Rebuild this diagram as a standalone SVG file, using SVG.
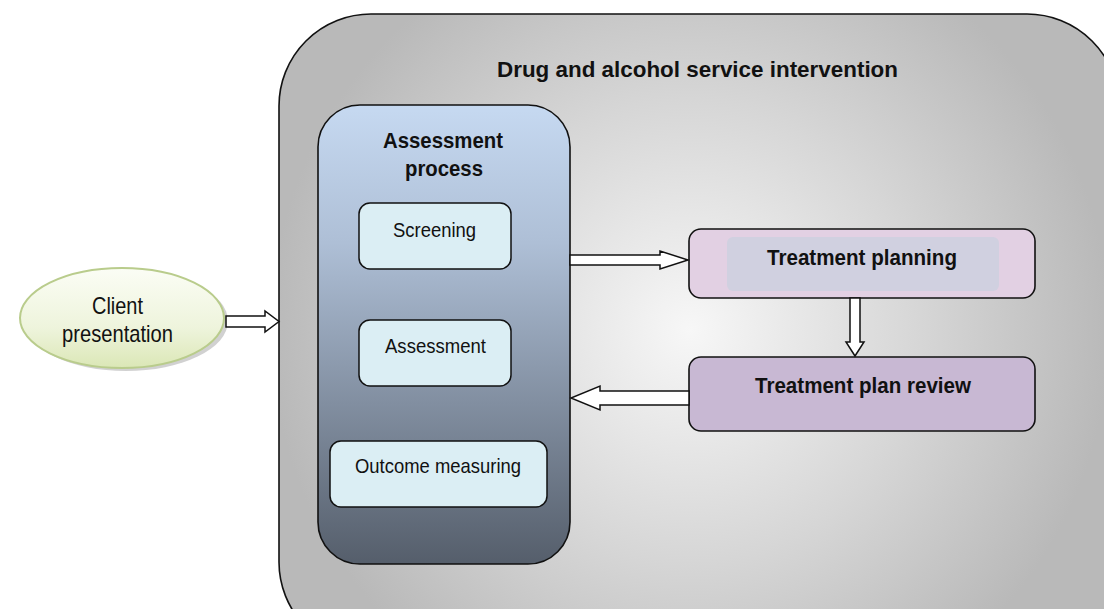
<svg xmlns="http://www.w3.org/2000/svg" width="1104" height="609" viewBox="0 0 1104 609">
<defs>
<radialGradient id="gOuter" gradientUnits="userSpaceOnUse" cx="690" cy="330" r="420">
<stop offset="0" stop-color="#f7f7f7"/>
<stop offset="0.55" stop-color="#d6d6d6"/>
<stop offset="1" stop-color="#b9b9b9"/>
</radialGradient>
<linearGradient id="gAssess" x1="0" y1="0" x2="0" y2="1">
<stop offset="0" stop-color="#c6d9f1"/>
<stop offset="0.3" stop-color="#aebfd6"/>
<stop offset="1" stop-color="#555e6b"/>
</linearGradient>
<linearGradient id="gClient" x1="0" y1="0" x2="0" y2="1">
<stop offset="0" stop-color="#fbfdf5"/>
<stop offset="0.6" stop-color="#eef4dc"/>
<stop offset="1" stop-color="#dbe7b6"/>
</linearGradient>
<style>
.t{font-family:"Liberation Sans Narrow","Liberation Sans",Arial,sans-serif;fill:#111;}
.b{font-weight:bold;}
.box{stroke:#111;stroke-width:1.6;}
.step{fill:#dbeef4;stroke:#111;stroke-width:1.5;}
.arr{fill:#fff;stroke:#111;stroke-width:1.5;stroke-linejoin:miter;}
</style>
</defs>

<g id="service">
<rect x="279" y="14" width="840" height="640" rx="92" ry="92" fill="url(#gOuter)" class="box"/>
<text class="t b" x="497" y="77" font-size="22" textLength="401" lengthAdjust="spacingAndGlyphs">Drug and alcohol service intervention</text>
</g>

<g id="assessment-process">
<rect x="318" y="105" width="252" height="459" rx="42" ry="42" fill="url(#gAssess)" class="box"/>
<text class="t b" x="383" y="148" font-size="22" textLength="120" lengthAdjust="spacingAndGlyphs">Assessment</text>
<text class="t b" x="405" y="176" font-size="22" textLength="78" lengthAdjust="spacingAndGlyphs">process</text>
</g>

<g id="screening">
<rect x="359" y="203" width="152" height="66" rx="11" class="step"/>
<text class="t" x="393" y="237" font-size="21" textLength="83" lengthAdjust="spacingAndGlyphs">Screening</text>
</g>

<g id="assessment">
<rect x="359" y="320" width="152" height="66" rx="11" class="step"/>
<text class="t" x="385" y="353" font-size="21" textLength="101" lengthAdjust="spacingAndGlyphs">Assessment</text>
</g>

<g id="outcome-measuring">
<rect x="330" y="441" width="217" height="66" rx="11" class="step"/>
<text class="t" x="355" y="473" font-size="21" textLength="166" lengthAdjust="spacingAndGlyphs">Outcome measuring</text>
</g>

<g id="treatment-planning">
<rect x="689" y="229" width="346" height="69" rx="12" fill="#e2d0e3" class="box"/>
<rect x="727" y="237" width="272" height="54" rx="6" fill="#d0d0e0"/>
<text class="t b" x="767" y="265" font-size="22" textLength="190" lengthAdjust="spacingAndGlyphs">Treatment planning</text>
</g>

<g id="treatment-plan-review">
<rect x="689" y="357" width="346" height="74" rx="12" fill="#c8b8d3" class="box"/>
<text class="t b" x="755" y="393" font-size="22" textLength="216" lengthAdjust="spacingAndGlyphs">Treatment plan review</text>
</g>

<g id="client-presentation">
<ellipse cx="126" cy="321" rx="102" ry="50" fill="#999" opacity="0.45"/>
<ellipse cx="122" cy="318" rx="102" ry="50" fill="url(#gClient)" stroke="#b9cc8c" stroke-width="2"/>
<text class="t" x="92" y="314" font-size="24" textLength="51" lengthAdjust="spacingAndGlyphs">Client</text>
<text class="t" x="62" y="342" font-size="24" textLength="111" lengthAdjust="spacingAndGlyphs">presentation</text>
</g>

<g id="connectors">
<polygon class="arr" points="226,316 265,316 265,311 279,321.5 265,332 265,327 226,327"/>
<polygon class="arr" points="570,255 660,255 660,251 688,260 660,269 660,265 570,265"/>
<polygon class="arr" points="850,298 860,298 860,342 864,342 855,356 846,342 850,342"/>
<polygon class="arr" points="689,391 600,391 600,386 571,398 600,410 600,405 689,405"/>
</g>
</svg>
